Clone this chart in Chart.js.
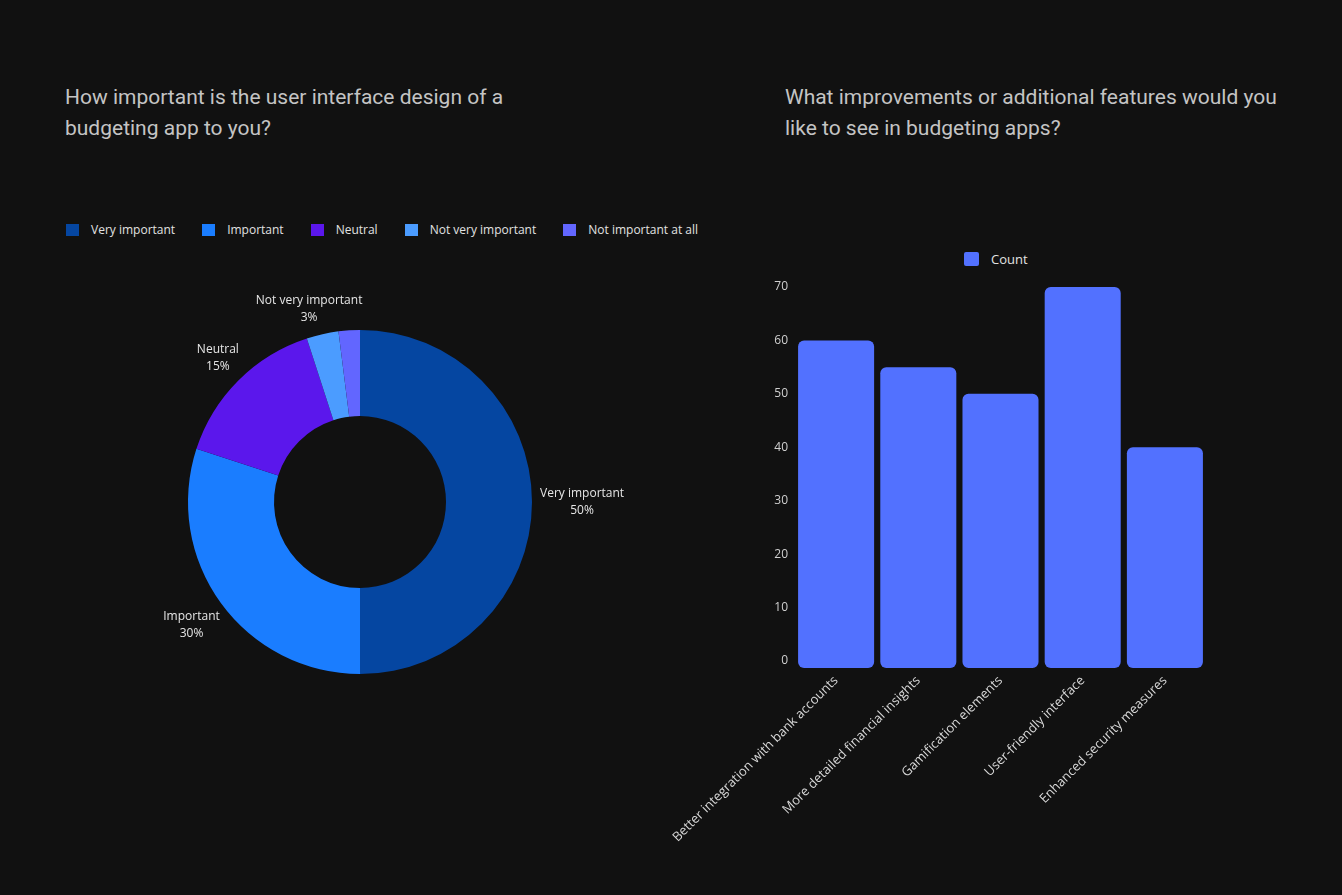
<!DOCTYPE html>
<html>
<head>
<meta charset="utf-8">
<script src="https://cdn.jsdelivr.net/npm/chart.js@4.4.1/dist/chart.umd.min.js"></script>
<style>
  html, body { margin: 0; padding: 0; background: #111111; width: 1342px; height: 895px; overflow: hidden; }
  .title { position: absolute; font-family: Roboto, sans-serif; font-size: 21px; line-height: 31px; color: #c4c4c4; }
  .legend { position: absolute; display: flex; align-items: center; font-family: "Open Sans", sans-serif; color: #e2e2e2; }
  .legend .item { display: flex; align-items: center; }
  .legend .box { display: inline-block; }
  canvas { position: absolute; }
</style>
</head>
<body>
<div class="title" style="left:65px; top:82px; width:470px;">How important is the user interface design of a budgeting app to you?</div>
<div class="title" style="left:785px; top:82px; width:500px;">What improvements or additional features would you like to see in budgeting apps?</div>

<div class="legend" id="pieLegend" style="left:66px; top:221px; font-size:12px;"></div>
<div class="legend" id="barLegend" style="left:964px; top:250px; font-size:13px;"></div>

<canvas id="pieChart" style="left:0px; top:272px;" width="720" height="460"></canvas>
<canvas id="barChart" style="left:645px; top:270px;" width="595" height="600"></canvas>

<script>
// doughnut data
const uiLabels = ['Very important', 'Important', 'Neutral', 'Not very important', 'Not important at all'];
const uiValues = [50, 30, 15, 3, 2];
const uiColors = ['#0546a1', '#1a7dff', '#5b17ec', '#4b9cff', '#6266ff'];

// bar data
const featureLabels = ['Better integration with bank accounts', 'More detailed financial insights', 'Gamification elements', 'User-friendly interface', 'Enhanced security measures'];
const featureCounts = [60, 55, 50, 70, 40];
const barColor = '#5271ff';

const labelFont = '"Open Sans", sans-serif';

// html legends
const pieLegend = document.getElementById('pieLegend');
uiLabels.forEach((l, i) => {
  const it = document.createElement('div');
  it.className = 'item';
  it.style.marginRight = i < uiLabels.length - 1 ? '27px' : '0';
  it.innerHTML = '<span class="box" style="width:13px;height:12px;margin-right:12px;background:' + uiColors[i] + '"></span>' + l;
  pieLegend.appendChild(it);
});
document.getElementById('barLegend').innerHTML =
  '<div class="item"><span class="box" style="width:15px;height:14px;border-radius:2px;margin-right:12px;background:' + barColor + '"></span>Count</div>';

// labels outside the doughnut slices
const outsideLabels = {
  id: 'outsideLabels',
  afterDatasetsDraw(chart) {
    const ctx = chart.ctx;
    const meta = chart.getDatasetMeta(0);
    const total = uiValues.reduce((a, b) => a + b, 0);
    ctx.save();
    ctx.font = '12px ' + labelFont;
    ctx.fillStyle = '#e6e6e6';
    ctx.textAlign = 'center';
    ctx.textBaseline = 'middle';
    meta.data.forEach((arc, i) => {
      const pct = Math.round(uiValues[i] / total * 100);
      if (pct < 3) return;
      const p = arc.getProps(['x', 'y', 'startAngle', 'endAngle', 'outerRadius'], true);
      const mid = (p.startAngle + p.endAngle) / 2;
      const c = Math.cos(mid), s = Math.sin(mid);
      const r = p.outerRadius + 8;
      const w = Math.max(ctx.measureText(uiLabels[i]).width, ctx.measureText(pct + '%').width);
      const cx = p.x + c * r + c * w / 2;
      const cy = p.y + s * r + (Math.abs(s) < 0.05 ? 0 : Math.sign(s) * 17);
      ctx.fillText(uiLabels[i], cx, cy - 8.5);
      ctx.fillText(pct + '%', cx, cy + 8.5);
    });
    ctx.restore();
  }
};

new Chart(document.getElementById('pieChart'), {
  type: 'doughnut',
  data: {
    labels: uiLabels,
    datasets: [{
      data: uiValues,
      backgroundColor: uiColors,
      borderWidth: 0
    }]
  },
  options: {
    responsive: false,
    animation: false,
    cutout: '50%',
    layout: { padding: { top: 58, bottom: 58 } },
    plugins: { legend: { display: false }, tooltip: { enabled: false } }
  },
  plugins: [outsideLabels]
});

new Chart(document.getElementById('barChart'), {
  type: 'bar',
  data: {
    labels: featureLabels,
    datasets: [{
      label: 'Count',
      data: featureCounts,
      backgroundColor: barColor,
      borderRadius: 6,
      borderSkipped: false,
      base: -1.3,
      clip: false,
      barPercentage: 1,
      categoryPercentage: 0.925
    }]
  },
  options: {
    responsive: false,
    animation: false,
    layout: { padding: { top: 17, right: 34 } },
    plugins: { legend: { display: false }, tooltip: { enabled: false } },
    scales: {
      x: {
        grid: { display: false, drawTicks: false },
        border: { display: false },
        ticks: {
          color: '#d8d8d8', font: { family: labelFont, size: 13 },
          maxRotation: 45, minRotation: 45, autoSkip: false, padding: 12
        },
        afterFit(s) { s.height = 209; }
      },
      y: {
        min: 0, max: 70,
        grid: { display: false, drawTicks: false },
        border: { display: false },
        ticks: { stepSize: 10, color: '#d0d0d0', font: { family: labelFont, size: 12 }, padding: 7 },
        afterFit(s) { s.width = 150; }
      }
    }
  }
});
</script>
</body>
</html>
